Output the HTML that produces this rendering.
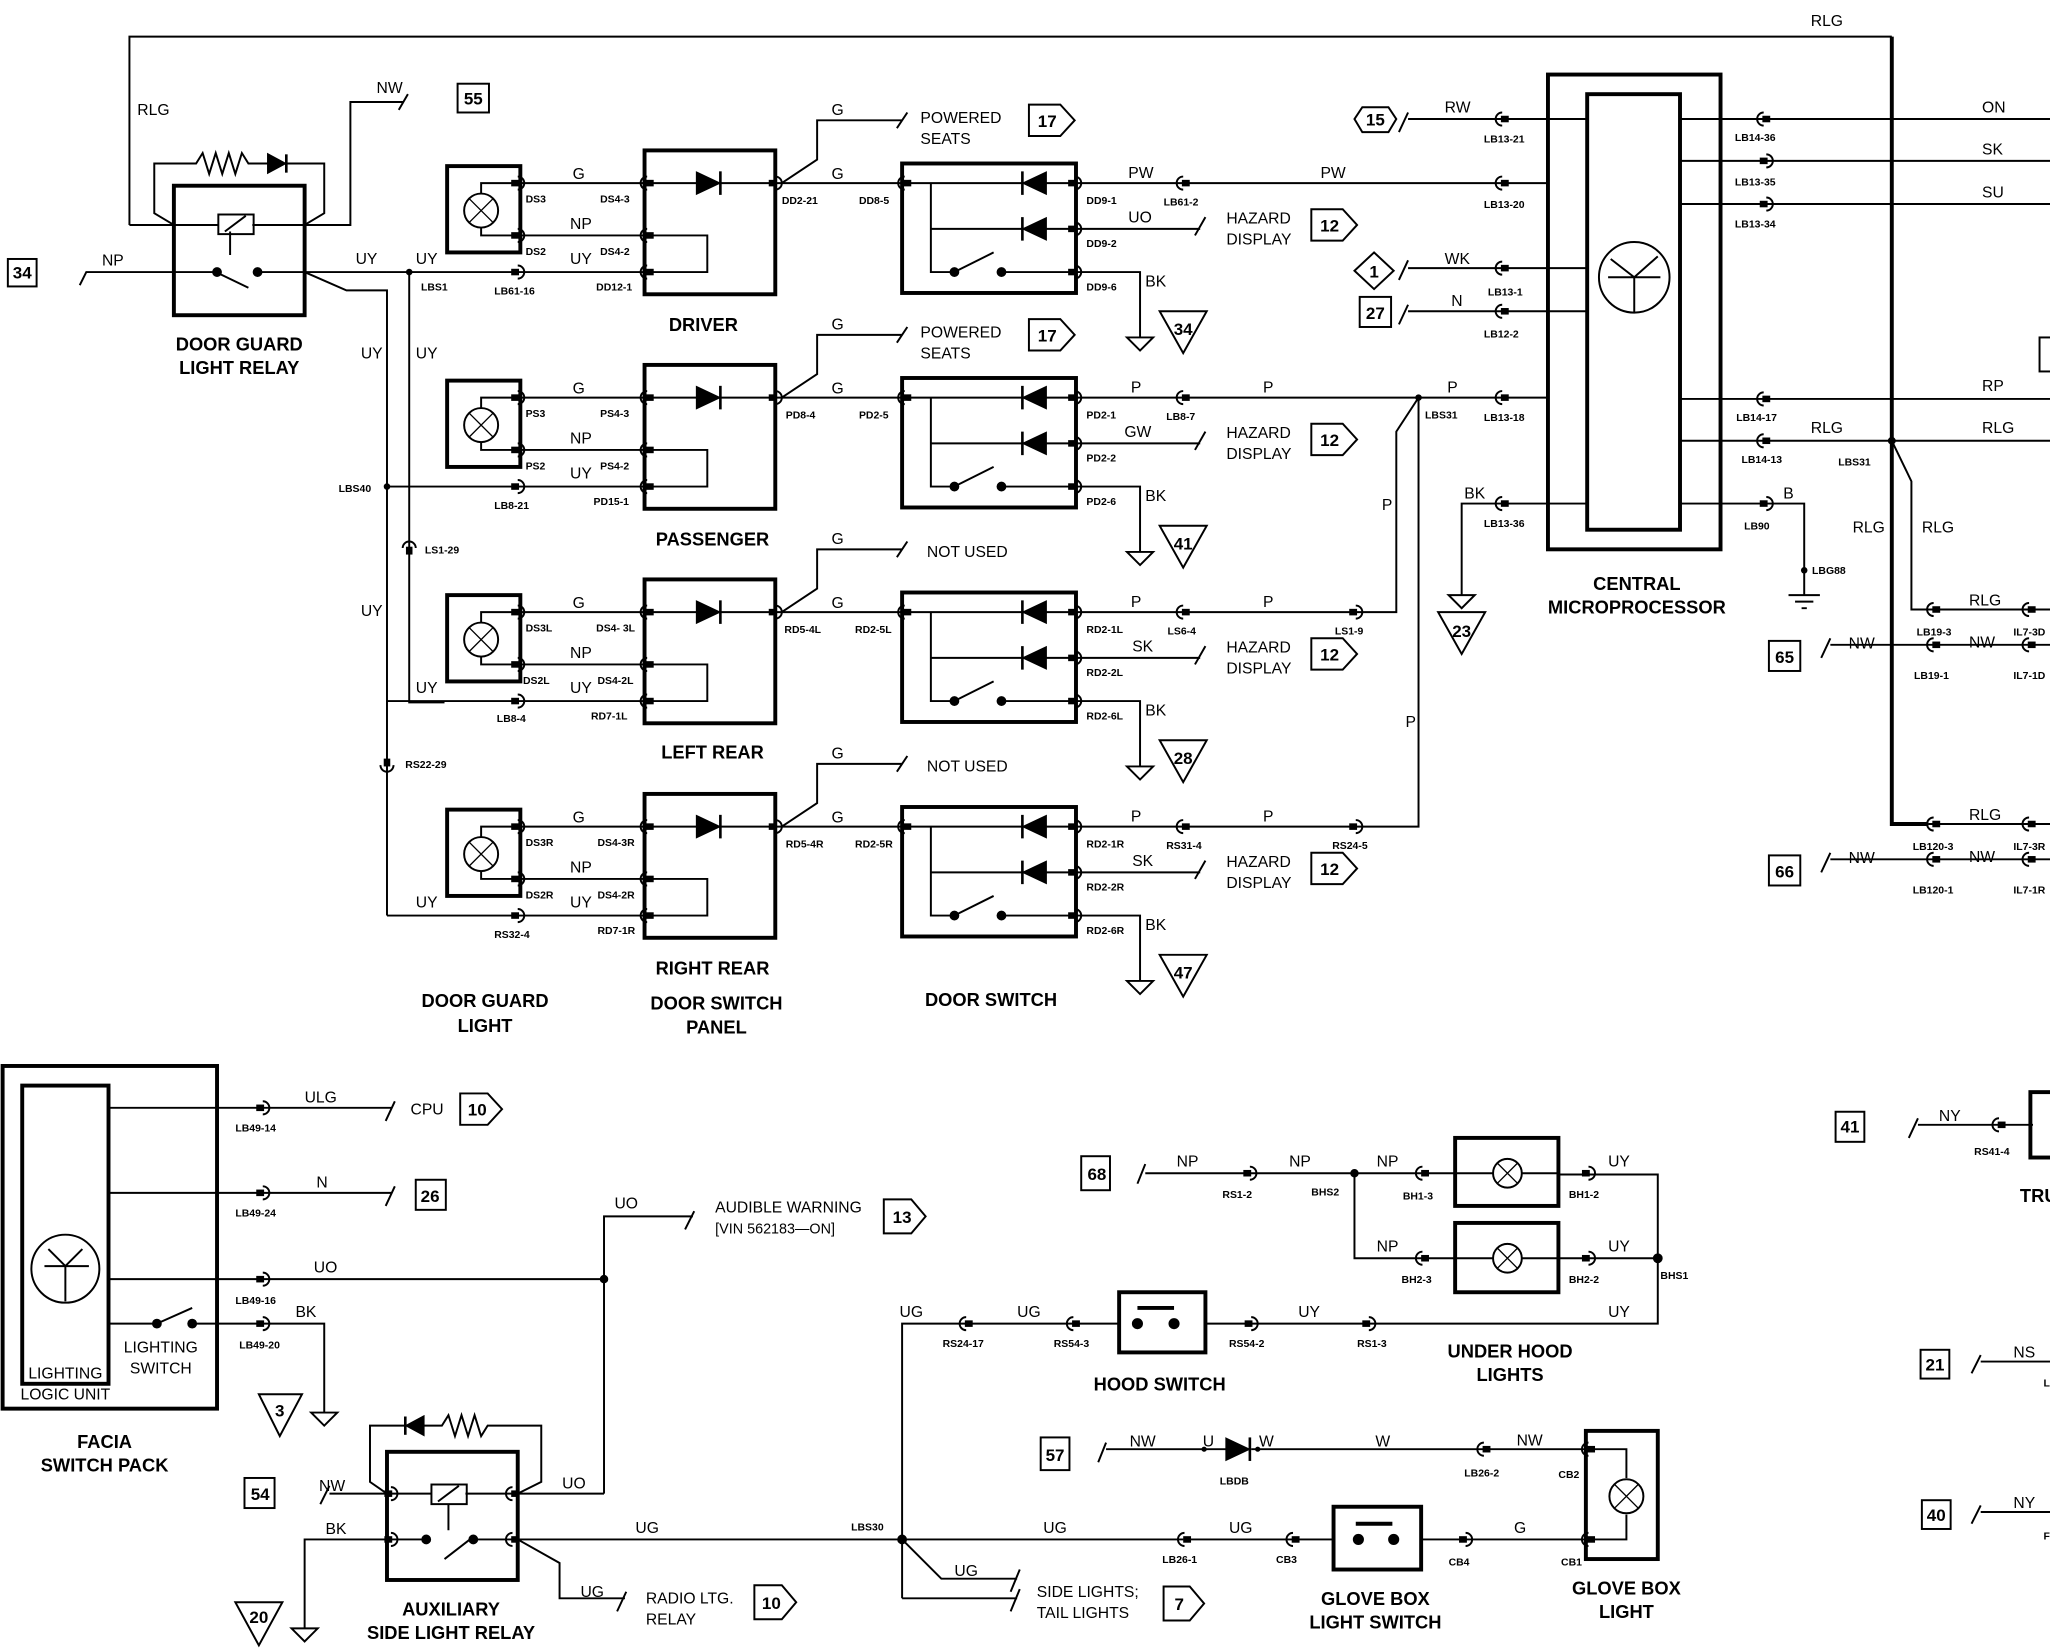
<!DOCTYPE html>
<html><head><meta charset="utf-8"><style>
html,body{margin:0;padding:0;background:#fff;}
svg{display:block;}
text{font-family:"Liberation Sans",sans-serif;fill:#000;font-weight:bold;}
.w{font-size:12px;font-weight:normal;}
.c{font-size:8px;}
.t{font-size:14px;}
.n{font-size:13px;text-anchor:middle;}
.m{text-anchor:middle;}
</style></head><body>
<svg width="2050" height="1648" viewBox="0 0 1568 1260" preserveAspectRatio="none" xmlns="http://www.w3.org/2000/svg">
<defs>
<g id="cr"><rect x="-4" y="-2.5" width="6" height="5" fill="#000"/><path d="M1,-5 a5,5 0 0 1 0,10" fill="none" stroke="#000" stroke-width="1.5"/></g>
<g id="cl"><rect x="-2" y="-2.5" width="6" height="5" fill="#000"/><path d="M-1,-5 a5,5 0 0 0 0,10" fill="none" stroke="#000" stroke-width="1.5"/></g>
<g id="row" fill="none" stroke="#000" stroke-width="1.5">
<rect x="342" y="127" width="56" height="66" stroke-width="3"/>
<circle cx="368" cy="161" r="13"/>
<path d="M359,152 L377,170 M377,152 L359,170" stroke-width="1"/>
<path d="M368,148 V140 H395 M368,174 V180 H395"/>
<path d="M398,140 H493 M398,180 H493 M296,208 H493"/>
<rect x="493" y="115" width="100" height="110" stroke-width="3"/>
<path d="M493,140 H593"/>
<path d="M533,132 L550,140 L533,148 Z" fill="#000"/>
<path d="M551,131 V149" stroke-width="2"/>
<path d="M493,180 H541 V208 H493"/>
<path d="M593,140 H690 M598,140 L625,122 V92 H690"/>
<path d="M686,98 L694,86"/>
<rect x="690" y="125" width="133" height="99" stroke-width="3"/>
<path d="M690,140 H823 M712,140 V208 H728 M712,175 H823 M765,208 H823"/>
<path d="M800,132 L783,140 L800,148 Z M800,167 L783,175 L800,183 Z" fill="#000"/>
<path d="M782,131 V149 M782,166 V184" stroke-width="2"/>
<circle cx="730" cy="208" r="3" fill="#000"/><circle cx="766" cy="208" r="3" fill="#000"/>
<path d="M730,208 L760,193"/>
<path d="M823,175 H918 M914,180 L922,166"/>
<path d="M823,208 H872 V258 M862,258 H882 L872,268 Z"/>
<path d="M887,238 H923 L905,270 Z" stroke-width="1.5"/>
<path d="M1003,160 H1027 L1038,172 L1027,184 H1003 Z"/>
</g>
</defs>

<g fill="none" stroke="#000" stroke-width="1.5">
<path d="M99,172 V28 H1447"/>
<path d="M1447,28 V630 H1475" stroke-width="3"/>
<rect x="133" y="142" width="100" height="99" stroke-width="3"/>
<path d="M99,172 H133 M133,172 L118,163 V125 H150 L155,117 L160,133 L165,117 L170,133 L175,117 L180,133 L185,117 L190,125 H205 M219,125 H248 V163 L233,172"/>
<path d="M205,118 L218,125 L205,132 Z" fill="#000"/><path d="M219,118 V132" stroke-width="2"/>
<path d="M133,172 H167 M193,172 H233 M176,177 V195"/>
<rect x="167" y="164" width="27" height="15"/><path d="M172,177 L188,165"/>
<path d="M133,208 H165 M165,208 L190,220 M197,208 H233"/>
<circle cx="166" cy="208" r="3" fill="#000"/><circle cx="197" cy="208" r="3" fill="#000"/>
<path d="M233,172 H268 V78 H308 M305,84 L312,72"/>
<path d="M61,218 L66,208 H133"/>
<rect x="6" y="198" width="22" height="21"/>
<rect x="350" y="64" width="24" height="22"/>
<path d="M233,208 H296 M233,208 L265,222 H296 V700 M313,208 V537 H340"/>
<path d="M787,80 H811 L822,92 L811,104 H787 Z"/>
<path d="M787,244 H811 L822,256 L811,268 H787 Z"/>
</g>
<use href="#row"/>
<use href="#row" y="164"/>
<use href="#row" y="328"/>
<use href="#row" y="492"/>

<g fill="none" stroke="#000" stroke-width="1.5">
<path d="M823,140 H1184"/>
<path d="M823,304 H1184"/>
<path d="M823,468 H1068 V330 L1085,304"/>
<path d="M823,632 H1085 V304"/>
<rect x="1184" y="57" width="132" height="363" stroke-width="3"/>
<rect x="1214" y="72" width="71" height="333" stroke-width="3"/>
<circle cx="1250" cy="212" r="27"/>
<path d="M1230,212 H1270 M1250,212 V239 M1250,212 L1232,198 M1250,212 L1268,196"/>
<path d="M1070,101 L1077,86 M1077,91 H1214 M1070,214 L1077,199 M1077,205 H1214 M1070,248 L1077,233 M1077,238 H1214 M1118,455 V385 H1214"/>
<path d="M1036,91 L1042,82 H1062 L1068,91 L1062,101 H1042 Z"/>
<path d="M1051,193 L1066,207 L1051,221 L1036,207 Z"/>
<rect x="1040" y="227" width="24" height="23"/>
<path d="M1108,455 H1128 L1118,465 Z"/>
<path d="M1100,468 H1136 L1118,500 Z"/>
<path d="M1285,91 H1568 M1285,123 H1568 M1285,156 H1568 M1285,305 H1568 M1285,337 H1568 M1285,385 H1380 V455"/>
<path d="M1368,455 H1392 M1373,460 H1387 M1378,465 H1382"/>
<path d="M1447,337 L1462,368 V466 H1568 M1393,503 L1400,488 M1400,493 H1568 M1475,630 H1568 M1393,667 L1400,652 M1400,657 H1568"/>
<rect x="1353" y="490" width="24" height="23"/><rect x="1353" y="654" width="24" height="23"/>
<rect x="1560" y="258" width="10" height="26"/>
<rect x="1404" y="850" width="22" height="23"/>
<path d="M1460,870 L1467,855 M1467,860 H1555"/>
<rect x="1553" y="835" width="20" height="50" stroke-width="3"/>
<rect x="1469" y="1032" width="22" height="22"/><path d="M1508,1050 L1515,1036 M1515,1041 H1568"/>
<rect x="1470" y="1147" width="22" height="22"/><path d="M1508,1165 L1515,1151 M1515,1156 H1568"/>

<rect x="2" y="815" width="164" height="262" stroke-width="3"/>
<rect x="17" y="830" width="66" height="228" stroke-width="3"/>
<circle cx="50" cy="970" r="26"/>
<path d="M34,968 H68 M50,968 V995 M50,968 L37,955 M50,968 L63,955"/>
<path d="M83,847 H300 M295,857 L302,842 M83,912 H300 M295,922 L302,907 M83,978 H462 M83,1012 H120 M120,1012 L147,1000 M147,1012 H248 V1080 M238,1080 H258 L248,1090 Z"/>
<circle cx="120" cy="1012" r="3" fill="#000"/><circle cx="147" cy="1012" r="3" fill="#000"/>
<path d="M198,1066 H231 L214,1098 Z"/>
<path d="M352,836 H373 L384,848 L373,860 H352 Z"/>
<rect x="318" y="902" width="23" height="23"/>
<path d="M462,1142 V930 H530 M524,940 L531,926"/>
<circle cx="462" cy="978" r="2.5" fill="#000"/>
<path d="M676,917 H697 L708,930 L697,943 H676 Z"/>
<rect x="296" y="1110" width="100" height="98" stroke-width="3"/>
<path d="M296,1142 L283,1133 V1090 H310 M324,1090 H338 L343,1082 L348,1098 L353,1082 L358,1098 L363,1082 L368,1098 L373,1090 H414 V1133 L396,1142"/>
<path d="M324,1083 L311,1090 L324,1097 Z" fill="#000"/><path d="M310,1083 V1097" stroke-width="2"/>
<path d="M296,1142 H330 M356,1142 H396 M343,1150 V1170"/>
<rect x="330" y="1135" width="27" height="15"/><path d="M335,1148 L351,1136"/>
<path d="M296,1177 H325 M340,1192 L362,1175 M362,1177 H396"/>
<circle cx="326" cy="1177" r="3" fill="#000"/><circle cx="362" cy="1177" r="3" fill="#000"/>
<path d="M396,1142 H462 M245,1150 L252,1136 M252,1142 H296 M296,1177 H233 V1245 M223,1245 H243 L233,1255 Z"/>
<path d="M180,1225 H216 L198,1258 Z"/>
<rect x="187" y="1130" width="23" height="23"/>
<path d="M396,1177 H905 M396,1177 L428,1195 V1222 H478 M472,1232 L479,1217"/>
<path d="M577,1212 H598 L609,1225 L598,1238 H577 Z"/>
<path d="M690,1222 V1012 H856 M922,1012 H1268 V898 H1192 M1268,962 H1192"/>
<circle cx="690" cy="1177" r="3" fill="#000"/><circle cx="1268" cy="962" r="3" fill="#000"/>
<path d="M690,1177 L720,1207 H778 M690,1222 H778 M773,1217 L780,1200 M773,1232 L780,1215"/>
<path d="M890,1213 H910 L921,1226 L910,1239 H890 Z"/>
<rect x="856" y="988" width="66" height="46" stroke-width="3"/>
<path d="M870,1000 H898" stroke-width="3"/>
<circle cx="870" cy="1012" r="3.5" fill="#000"/><circle cx="898" cy="1012" r="3.5" fill="#000"/>
<rect x="827" y="884" width="22" height="26"/>
<path d="M870,905 L876,890 M876,897 H1113 M1036,897 V962 H1113 M1113,897 H1192 M1113,962 H1192"/>
<circle cx="1036" cy="897" r="2.5" fill="#000"/>
<rect x="1113" y="870" width="79" height="52" stroke-width="3"/>
<rect x="1113" y="935" width="79" height="53" stroke-width="3"/>
<circle cx="1153" cy="897" r="11" fill="#fff"/><circle cx="1153" cy="962" r="11" fill="#fff"/>
<path d="M1145,889 L1161,905 M1161,889 L1145,905 M1145,954 L1161,970 M1161,954 L1145,970" stroke-width="1"/>
<rect x="796" y="1099" width="22" height="25"/>
<path d="M840,1118 L846,1103 M846,1108 H938 M957,1108 H1213"/>
<path d="M938,1100 L955,1108 L938,1116 Z" fill="#000"/><path d="M956,1099 V1117" stroke-width="2"/>
<rect x="1213" y="1094" width="55" height="98" stroke-width="3"/>
<path d="M1213,1108 H1244 V1130 M1244,1158 V1177 H1213"/>
<circle cx="1244" cy="1144" r="13"/>
<path d="M1235,1135 L1253,1153 M1253,1135 L1235,1153" stroke-width="1"/>
<path d="M905,1177 H1020 M1087,1177 H1213"/>
<rect x="1020" y="1152" width="67" height="48" stroke-width="3"/>
<path d="M1037,1165 H1065" stroke-width="3"/>
<circle cx="1039" cy="1177" r="3.5" fill="#000"/><circle cx="1066" cy="1177" r="3.5" fill="#000"/>
</g>

<g fill="#000">
<circle cx="313" cy="208" r="2.5"/><circle cx="296" cy="372" r="2.5"/><circle cx="1085" cy="304" r="2.5"/><circle cx="1447" cy="337" r="3"/><circle cx="1380" cy="436" r="2.5"/>
<circle cx="921" cy="1108" r="2"/><circle cx="962" cy="1108" r="2"/>
</g>

<g>
<use href="#cr" x="395" y="140"/><use href="#cr" x="395" y="180"/><use href="#cr" x="395" y="208"/><use href="#cl" x="496" y="140"/><use href="#cl" x="496" y="180"/><use href="#cl" x="496" y="208"/><use href="#cr" x="592" y="140"/><use href="#cl" x="693" y="140"/><use href="#cr" x="821" y="140"/><use href="#cr" x="821" y="175"/><use href="#cr" x="821" y="208"/><use href="#cl" x="906" y="140"/>
<use href="#cr" x="395" y="304"/><use href="#cr" x="395" y="344"/><use href="#cr" x="395" y="372"/><use href="#cl" x="496" y="304"/><use href="#cl" x="496" y="344"/><use href="#cl" x="496" y="372"/><use href="#cr" x="592" y="304"/><use href="#cl" x="693" y="304"/><use href="#cr" x="821" y="304"/><use href="#cr" x="821" y="339"/><use href="#cr" x="821" y="372"/><use href="#cl" x="906" y="304"/>
<use href="#cr" x="395" y="468"/><use href="#cr" x="395" y="508"/><use href="#cr" x="395" y="536"/><use href="#cl" x="496" y="468"/><use href="#cl" x="496" y="508"/><use href="#cl" x="496" y="536"/><use href="#cr" x="592" y="468"/><use href="#cl" x="693" y="468"/><use href="#cr" x="821" y="468"/><use href="#cr" x="821" y="503"/><use href="#cr" x="821" y="536"/><use href="#cl" x="906" y="468"/><use href="#cr" x="1036" y="468"/>
<use href="#cr" x="395" y="632"/><use href="#cr" x="395" y="672"/><use href="#cr" x="395" y="700"/><use href="#cl" x="496" y="632"/><use href="#cl" x="496" y="672"/><use href="#cl" x="496" y="700"/><use href="#cr" x="592" y="632"/><use href="#cl" x="693" y="632"/><use href="#cr" x="821" y="632"/><use href="#cr" x="821" y="667"/><use href="#cr" x="821" y="700"/><use href="#cl" x="906" y="632"/><use href="#cr" x="1036" y="632"/>
<use href="#cl" x="1150" y="91"/><use href="#cl" x="1150" y="140"/><use href="#cl" x="1150" y="205"/><use href="#cl" x="1150" y="238"/><use href="#cl" x="1150" y="304"/><use href="#cl" x="1150" y="385"/>
<use href="#cl" x="1350" y="91"/><use href="#cr" x="1350" y="123"/><use href="#cr" x="1350" y="156"/><use href="#cl" x="1350" y="305"/><use href="#cl" x="1350" y="337"/><use href="#cr" x="1350" y="385"/>
<use href="#cl" x="1480" y="466"/><use href="#cl" x="1480" y="493"/><use href="#cl" x="1553" y="466"/><use href="#cl" x="1553" y="493"/>
<use href="#cl" x="1480" y="630"/><use href="#cl" x="1480" y="657"/><use href="#cl" x="1553" y="630"/><use href="#cl" x="1553" y="657"/>
<use href="#cl" x="1530" y="860"/>
<use href="#cr" x="200" y="847"/><use href="#cr" x="200" y="912"/><use href="#cr" x="200" y="978"/><use href="#cr" x="200" y="1012"/>
<use href="#cr" x="298" y="1142"/><use href="#cr" x="298" y="1177"/><use href="#cl" x="393" y="1142"/><use href="#cl" x="393" y="1177"/>
<use href="#cl" x="740" y="1012"/><use href="#cl" x="822" y="1012"/><use href="#cr" x="956" y="1012"/><use href="#cr" x="1046" y="1012"/>
<use href="#cr" x="955" y="897"/><use href="#cl" x="1089" y="897"/><use href="#cl" x="1089" y="962"/><use href="#cr" x="1214" y="897"/><use href="#cr" x="1214" y="962"/>
<use href="#cl" x="1136" y="1108"/><use href="#cl" x="1216" y="1108"/><use href="#cl" x="1216" y="1177"/>
<use href="#cl" x="907" y="1177"/><use href="#cl" x="990" y="1177"/><use href="#cr" x="1120" y="1177"/>
<g transform="translate(313,420) rotate(90)"><use href="#cl"/></g>
<g transform="translate(296,584) rotate(-90)"><use href="#cl"/></g>
</g>

<text class="w" x="1385" y="20">RLG</text>
<text class="w" x="105" y="88">RLG</text>
<text class="w" x="288" y="71">NW</text>
<text class="n" x="362" y="80">55</text>
<text class="n" x="17" y="213">34</text>
<text class="w" x="78" y="203">NP</text>
<text class="w" x="272" y="202">UY</text><text class="w" x="318" y="202">UY</text>
<text class="c" x="322" y="222">LBS1</text>
<text class="w" x="276" y="274">UY</text><text class="w" x="318" y="274">UY</text>
<text class="c" x="259" y="376">LBS40</text>
<text class="c" x="325" y="423">LS1-29</text>
<text class="w" x="276" y="471">UY</text>
<text class="w" x="318" y="530">UY</text>
<text class="c" x="310" y="587">RS22-29</text>
<text class="w" x="318" y="694">UY</text>
<text class="t m" x="183" y="268">DOOR GUARD</text><text class="t m" x="183" y="286">LIGHT RELAY</text>

<text class="w" x="438" y="137">G</text><text class="w" x="436" y="175">NP</text><text class="w" x="436" y="202">UY</text>
<text class="c" x="402" y="155">DS3</text><text class="c" x="402" y="195">DS2</text><text class="c" x="459" y="155">DS4-3</text><text class="c" x="459" y="195">DS4-2</text><text class="c" x="456" y="222">DD12-1</text><text class="c" x="378" y="225">LB61-16</text>
<text class="c" x="598" y="156">DD2-21</text><text class="c" x="657" y="156">DD8-5</text>
<text class="w" x="636" y="88">G</text><text class="w" x="636" y="137">G</text>
<text class="w" x="704" y="94">POWERED</text><text class="w" x="704" y="110">SEATS</text><text class="n" x="801" y="97">17</text>
<text class="c" x="831" y="156">DD9-1</text><text class="c" x="831" y="189">DD9-2</text><text class="c" x="831" y="222">DD9-6</text>
<text class="w" x="863" y="136">PW</text><text class="w" x="1010" y="136">PW</text><text class="c" x="890" y="157">LB61-2</text>
<text class="w" x="863" y="170">UO</text><text class="w" x="876" y="219">BK</text>
<text class="w" x="938" y="171">HAZARD</text><text class="w" x="938" y="187">DISPLAY</text><text class="n" x="1017" y="177">12</text>
<text class="n" x="905" y="256">34</text>
<text class="t m" x="538" y="253">DRIVER</text>
<text class="w" x="438" y="301">G</text><text class="w" x="436" y="339">NP</text><text class="w" x="436" y="366">UY</text>
<text class="c" x="402" y="319">PS3</text><text class="c" x="402" y="359">PS2</text><text class="c" x="459" y="319">PS4-3</text><text class="c" x="459" y="359">PS4-2</text><text class="c" x="454" y="386">PD15-1</text><text class="c" x="378" y="389">LB8-21</text>
<text class="c" x="601" y="320">PD8-4</text><text class="c" x="657" y="320">PD2-5</text>
<text class="w" x="636" y="252">G</text><text class="w" x="636" y="301">G</text>
<text class="w" x="704" y="258">POWERED</text><text class="w" x="704" y="274">SEATS</text><text class="n" x="801" y="261">17</text>
<text class="c" x="831" y="320">PD2-1</text><text class="c" x="831" y="353">PD2-2</text><text class="c" x="831" y="386">PD2-6</text>
<text class="w" x="865" y="300">P</text><text class="w" x="966" y="300">P</text><text class="c" x="892" y="321">LB8-7</text>
<text class="w" x="860" y="334">GW</text><text class="w" x="876" y="383">BK</text>
<text class="w" x="938" y="335">HAZARD</text><text class="w" x="938" y="351">DISPLAY</text><text class="n" x="1017" y="341">12</text>
<text class="n" x="905" y="420">41</text>
<text class="t m" x="545" y="417">PASSENGER</text>
<text class="w" x="438" y="465">G</text><text class="w" x="436" y="503">NP</text><text class="w" x="436" y="530">UY</text>
<text class="c" x="402" y="483">DS3L</text><text class="c" x="400" y="523">DS2L</text><text class="c" x="456" y="483">DS4- 3L</text><text class="c" x="457" y="523">DS4-2L</text><text class="c" x="452" y="550">RD7-1L</text><text class="c" x="380" y="552">LB8-4</text>
<text class="c" x="600" y="484">RD5-4L</text><text class="c" x="654" y="484">RD2-5L</text>
<text class="w" x="636" y="416">G</text><text class="w" x="636" y="465">G</text>
<text class="w" x="709" y="426">NOT USED</text>
<text class="c" x="831" y="484">RD2-1L</text><text class="c" x="831" y="517">RD2-2L</text><text class="c" x="831" y="550">RD2-6L</text>
<text class="w" x="865" y="464">P</text><text class="w" x="966" y="464">P</text><text class="c" x="893" y="485">LS6-4</text><text class="c" x="1021" y="485">LS1-9</text>
<text class="w" x="866" y="498">SK</text><text class="w" x="876" y="547">BK</text>
<text class="w" x="938" y="499">HAZARD</text><text class="w" x="938" y="515">DISPLAY</text><text class="n" x="1017" y="505">12</text>
<text class="n" x="905" y="584">28</text>
<text class="t m" x="545" y="580">LEFT REAR</text>
<text class="w" x="438" y="629">G</text><text class="w" x="436" y="667">NP</text><text class="w" x="436" y="694">UY</text>
<text class="c" x="402" y="647">DS3R</text><text class="c" x="402" y="687">DS2R</text><text class="c" x="457" y="647">DS4-3R</text><text class="c" x="457" y="687">DS4-2R</text><text class="c" x="457" y="714">RD7-1R</text><text class="c" x="378" y="717">RS32-4</text>
<text class="c" x="601" y="648">RD5-4R</text><text class="c" x="654" y="648">RD2-5R</text>
<text class="w" x="636" y="580">G</text><text class="w" x="636" y="629">G</text>
<text class="w" x="709" y="590">NOT USED</text>
<text class="c" x="831" y="648">RD2-1R</text><text class="c" x="831" y="681">RD2-2R</text><text class="c" x="831" y="714">RD2-6R</text>
<text class="w" x="865" y="628">P</text><text class="w" x="966" y="628">P</text><text class="c" x="892" y="649">RS31-4</text><text class="c" x="1019" y="649">RS24-5</text>
<text class="w" x="866" y="662">SK</text><text class="w" x="876" y="711">BK</text>
<text class="w" x="938" y="663">HAZARD</text><text class="w" x="938" y="679">DISPLAY</text><text class="n" x="1017" y="669">12</text>
<text class="n" x="905" y="748">47</text>
<text class="t m" x="545" y="745">RIGHT REAR</text>
<text class="t m" x="371" y="770">DOOR GUARD</text><text class="t m" x="371" y="789">LIGHT</text>
<text class="t m" x="548" y="772">DOOR SWITCH</text><text class="t m" x="548" y="790">PANEL</text>
<text class="t m" x="758" y="769">DOOR SWITCH</text>
<text class="w" x="1057" y="390">P</text><text class="w" x="1075" y="556">P</text><text class="w" x="1107" y="300">P</text>
<text class="c" x="1090" y="320">LBS31</text>

<text class="n" x="1052" y="96">15</text><text class="n" x="1051" y="212">1</text><text class="n" x="1052" y="244">27</text>
<text class="w" x="1105" y="86">RW</text><text class="w" x="1105" y="202">WK</text><text class="w" x="1110" y="234">N</text><text class="w" x="1120" y="381">BK</text>
<text class="c" x="1135" y="109">LB13-21</text><text class="c" x="1135" y="159">LB13-20</text><text class="c" x="1138" y="226">LB13-1</text><text class="c" x="1135" y="258">LB12-2</text><text class="c" x="1135" y="322">LB13-18</text><text class="c" x="1135" y="403">LB13-36</text>
<text class="n" x="1118" y="487">23</text>
<text class="t m" x="1252" y="451">CENTRAL</text><text class="t m" x="1252" y="469">MICROPROCESSOR</text>
<text class="c" x="1327" y="108">LB14-36</text><text class="c" x="1327" y="142">LB13-35</text><text class="c" x="1327" y="174">LB13-34</text><text class="c" x="1328" y="322">LB14-17</text><text class="c" x="1332" y="354">LB14-13</text><text class="c" x="1334" y="405">LB90</text>
<text class="c" x="1406" y="356">LBS31</text><text class="c" x="1386" y="439">LBG88</text>
<text class="w" x="1516" y="86">ON</text><text class="w" x="1516" y="118">SK</text><text class="w" x="1516" y="151">SU</text><text class="w" x="1516" y="299">RP</text><text class="w" x="1516" y="331">RLG</text>
<text class="w" x="1385" y="331">RLG</text><text class="w" x="1364" y="381">B</text>
<text class="w" x="1417" y="407">RLG</text><text class="w" x="1470" y="407">RLG</text>
<text class="w" x="1506" y="463">RLG</text><text class="w" x="1506" y="495">NW</text><text class="w" x="1414" y="496">NW</text>
<text class="c" x="1466" y="486">LB19-3</text><text class="c" x="1464" y="519">LB19-1</text><text class="c" x="1540" y="486">IL7-3D</text><text class="c" x="1540" y="519">IL7-1D</text>
<text class="n" x="1365" y="507">65</text><text class="n" x="1365" y="671">66</text>
<text class="w" x="1506" y="627">RLG</text><text class="w" x="1506" y="659">NW</text><text class="w" x="1414" y="660">NW</text>
<text class="c" x="1463" y="650">LB120-3</text><text class="c" x="1463" y="683">LB120-1</text><text class="c" x="1540" y="650">IL7-3R</text><text class="c" x="1540" y="683">IL7-1R</text>
<text class="n" x="1415" y="866">41</text><text class="w" x="1483" y="857">NY</text><text class="c" x="1510" y="883">RS41-4</text><text class="t" x="1545" y="919">TRU</text>
<text class="n" x="1480" y="1048">21</text><text class="w" x="1540" y="1038">NS</text><text class="c" x="1563" y="1060">L</text>
<text class="n" x="1481" y="1163">40</text><text class="w" x="1540" y="1153">NY</text><text class="c" x="1563" y="1177">F</text>

<text class="w" x="233" y="843">ULG</text><text class="w" x="314" y="852">CPU</text><text class="n" x="365" y="853">10</text>
<text class="c" x="180" y="865">LB49-14</text><text class="w" x="242" y="908">N</text><text class="n" x="329" y="919">26</text><text class="c" x="180" y="930">LB49-24</text>
<text class="w" x="240" y="973">UO</text><text class="c" x="180" y="997">LB49-16</text><text class="w" x="226" y="1007">BK</text><text class="c" x="183" y="1031">LB49-20</text>
<text class="w m" x="123" y="1034">LIGHTING</text><text class="w m" x="123" y="1050">SWITCH</text>
<text class="w m" x="50" y="1054">LIGHTING</text><text class="w m" x="50" y="1070">LOGIC UNIT</text>
<text class="t m" x="80" y="1107">FACIA</text><text class="t m" x="80" y="1125">SWITCH PACK</text>
<text class="n" x="214" y="1083">3</text>
<text class="w" x="470" y="924">UO</text><text class="w" x="547" y="927">AUDIBLE WARNING</text><text class="w" x="547" y="943" style="font-size:11px">[VIN 562183—ON]</text><text class="n" x="690" y="935">13</text>
<text class="n" x="199" y="1147">54</text><text class="w" x="244" y="1140">NW</text><text class="w" x="249" y="1173">BK</text><text class="w" x="430" y="1138">UO</text>
<text class="n" x="198" y="1241">20</text>
<text class="t m" x="345" y="1235">AUXILIARY</text><text class="t m" x="345" y="1253">SIDE LIGHT RELAY</text>
<text class="w" x="486" y="1172">UG</text><text class="w" x="444" y="1221">UG</text><text class="w" x="494" y="1226">RADIO LTG.</text><text class="w" x="494" y="1242">RELAY</text><text class="n" x="590" y="1230">10</text>
<text class="c" x="651" y="1170">LBS30</text><text class="w" x="798" y="1172">UG</text><text class="w" x="940" y="1172">UG</text><text class="w" x="1158" y="1172">G</text>
<text class="w" x="730" y="1205">UG</text><text class="w" x="793" y="1221">SIDE LIGHTS;</text><text class="w" x="793" y="1237">TAIL LIGHTS</text><text class="n" x="902" y="1231">7</text>
<text class="c" x="889" y="1195">LB26-1</text><text class="c" x="976" y="1195">CB3</text><text class="c" x="1108" y="1197">CB4</text><text class="c" x="1194" y="1197">CB1</text>
<text class="t m" x="1052" y="1227">GLOVE BOX</text><text class="t m" x="1052" y="1245">LIGHT SWITCH</text>
<text class="t m" x="1244" y="1219">GLOVE BOX</text><text class="t m" x="1244" y="1237">LIGHT</text>
<text class="n" x="807" y="1117">57</text><text class="w" x="864" y="1106">NW</text><text class="w" x="920" y="1106">U</text><text class="w" x="963" y="1106">W</text><text class="w" x="1052" y="1106">W</text><text class="w" x="1160" y="1105">NW</text>
<text class="c" x="933" y="1135">LBDB</text><text class="c" x="1120" y="1129">LB26-2</text><text class="c" x="1192" y="1130">CB2</text>
<text class="w" x="688" y="1007">UG</text><text class="w" x="778" y="1007">UG</text><text class="w" x="993" y="1007">UY</text><text class="w" x="1230" y="1007">UY</text>
<text class="c" x="721" y="1030">RS24-17</text><text class="c" x="806" y="1030">RS54-3</text><text class="c" x="940" y="1030">RS54-2</text><text class="c" x="1038" y="1030">RS1-3</text>
<text class="t m" x="887" y="1063">HOOD SWITCH</text>
<text class="t m" x="1155" y="1038">UNDER HOOD</text><text class="t m" x="1155" y="1056">LIGHTS</text>
<text class="n" x="839" y="902">68</text><text class="w" x="900" y="892">NP</text><text class="w" x="986" y="892">NP</text><text class="w" x="1053" y="892">NP</text><text class="w" x="1053" y="957">NP</text>
<text class="w" x="1230" y="892">UY</text><text class="w" x="1230" y="957">UY</text>
<text class="c" x="935" y="916">RS1-2</text><text class="c" x="1003" y="914">BHS2</text><text class="c" x="1073" y="917">BH1-3</text><text class="c" x="1072" y="981">BH2-3</text><text class="c" x="1200" y="916">BH1-2</text><text class="c" x="1200" y="981">BH2-2</text><text class="c" x="1270" y="978">BHS1</text>
</svg>
</body></html>
